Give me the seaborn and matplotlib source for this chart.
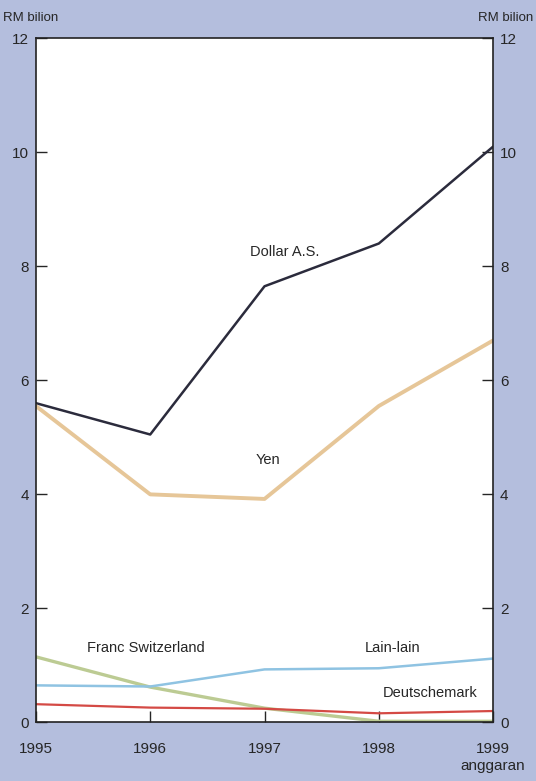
import pandas as pd
import matplotlib
matplotlib.use('Agg')
import matplotlib.pyplot as plt
import seaborn as sns

# data (RM bilion)
years = [1995, 1996, 1997, 1998, 1999]
dollar = [5.6, 5.05, 7.65, 8.4, 10.1]
yen = [5.55, 4.0, 3.92, 5.55, 6.7]
franc = [1.15, 0.62, 0.25, 0.02, 0.02]
lain = [0.65, 0.63, 0.93, 0.95, 1.12]
dmark = [0.32, 0.26, 0.24, 0.16, 0.2]
year_labels = ['1995', '1996', '1997', '1998', '1999\nanggaran']

names = ['Dollar A.S.', 'Yen', 'Franc Switzerland', 'Lain-lain', 'Deutschemark']
colors = ['#2b2b3c', '#e6c698', '#bccb93', '#8fc3e2', '#d44a45']
widths = [1.8, 2.8, 2.4, 1.8, 1.6]

df = pd.DataFrame({
    'tahun': years * 5,
    'nilai': dollar + yen + franc + lain + dmark,
    'mata wang': sum([[n] * 5 for n in names], []),
})

sns.set_style('white')
plt.rcParams['font.family'] = ['Liberation Sans', 'DejaVu Sans']

bg = '#b4bedd'
fig = plt.figure(figsize=(5.36, 7.81), dpi=100, facecolor=bg)
ax = fig.add_axes([0.067, 0.075, 0.853, 0.876])
ax.set_facecolor('white')

sns.lineplot(data=df, x='tahun', y='nilai', hue='mata wang', palette=dict(zip(names, colors)),
             linewidth=2, legend=False, ax=ax)
for ln, w in zip(ax.lines, widths):
    ln.set_linewidth(w)

ax.set_xlim(1995, 1999)
ax.set_ylim(0, 12)
ax.set_xlabel('')
ax.set_ylabel('')
ax.set_yticks(range(0, 13, 2))
ax.set_xticks(years)
ax.set_xticklabels(year_labels, fontsize=11, linespacing=1.3)
ax.tick_params(axis='y', direction='in', length=8, width=1, labelsize=11, pad=5,
               left=True, right=True, labelleft=True, labelright=True)
ax.tick_params(axis='x', direction='in', length=8, width=1, pad=14, bottom=True)
for s in ax.spines.values():
    s.set_color('#222222')
    s.set_linewidth(1.2)

fig.text(0.005, 0.985, 'RM bilion', fontsize=9.5, ha='left', va='top')
fig.text(0.995, 0.985, 'RM bilion', fontsize=9.5, ha='right', va='top')

# series labels
ax.text(1997.18, 8.25, 'Dollar A.S.', fontsize=10.5, ha='center', va='center')
ax.text(1997.03, 4.6, 'Yen', fontsize=10.5, ha='center', va='center')
ax.text(1995.96, 1.3, 'Franc Switzerland', fontsize=10.5, ha='center', va='center')
ax.text(1998.12, 1.3, 'Lain-lain', fontsize=10.5, ha='center', va='center')
ax.text(1998.45, 0.52, 'Deutschemark', fontsize=10.5, ha='center', va='center')

fig.savefig('out.png', dpi=100, facecolor=bg)
